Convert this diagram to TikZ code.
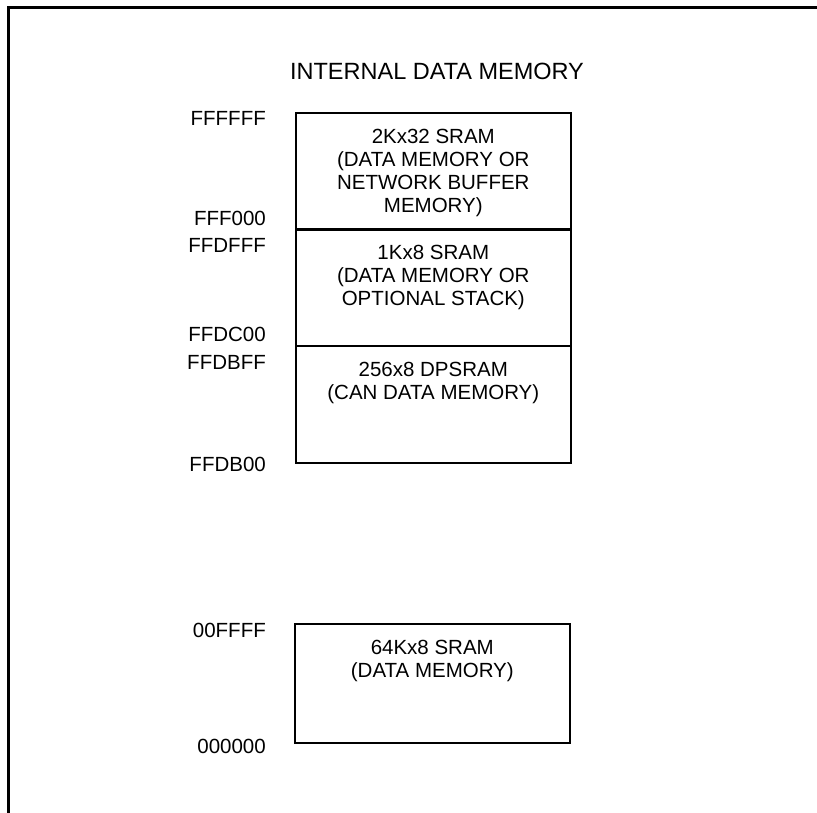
\documentclass[tikz,border=0pt]{standalone}
\usepackage{fontspec}
\setmainfont{Liberation Sans}
\begin{document}
\begin{tikzpicture}[x=1pt,y=-1pt,
	mem/.style={draw,line width=1.6pt,minimum width=275pt,minimum height=117pt,inner sep=0pt,anchor=north west},
	memtxt/.style={anchor=north,align=center,inner sep=0pt,font=\fontsize{20.5}{23}\selectfont},
	addr/.style={anchor=base east,inner sep=0pt,font=\fontsize{20.5}{23}\selectfont}]
	\useasboundingbox (0,0) rectangle (817,813);
	% frame
	\draw[line width=2.2pt] (8.5,813) -- (8.5,7.5) -- (817,7.5);
	\node[anchor=base,inner sep=0pt,font=\fontsize{23.5}{26}\selectfont] (title) at (437,80) {INTERNAL DATA MEMORY};
	% memory blocks
	\node[mem] (sram2k) at (295,112) {};
	\node[mem] (sram1k) at (295,228) {};
	\node[mem] (dpsram) at (295,345) {};
	\node[mem,minimum height=119pt] (sram64k) at (294,623) {};
	\node[memtxt] (sram2ktxt) at ([yshift=-17pt]sram2k.north) {2Kx32 SRAM\\(DATA MEMORY OR\\NETWORK BUFFER\\MEMORY)};
	\node[memtxt] (sram1ktxt) at ([yshift=-17pt]sram1k.north) {1Kx8 SRAM\\(DATA MEMORY OR\\OPTIONAL STACK)};
	\node[memtxt] (dpsramtxt) at ([yshift=-17pt]dpsram.north) {256x8 DPSRAM\\(CAN DATA MEMORY)};
	\node[memtxt] (sram64ktxt) at ([yshift=-17pt]sram64k.north) {64Kx8 SRAM\\(DATA MEMORY)};
	% addresses
	\node[addr] (a1) at (266,126) {FFFFFF};
	\node[addr] (a2) at (266,226) {FFF000};
	\node[addr] (a3) at (266,253) {FFDFFF};
	\node[addr] (a4) at (266,341) {FFDC00};
	\node[addr] (a5) at (266,369) {FFDBFF};
	\node[addr] (a6) at (266,471) {FFDB00};
	\node[addr] (a7) at (266,637) {00FFFF};
	\node[addr] (a8) at (266,753) {000000};
\end{tikzpicture}
\end{document}
